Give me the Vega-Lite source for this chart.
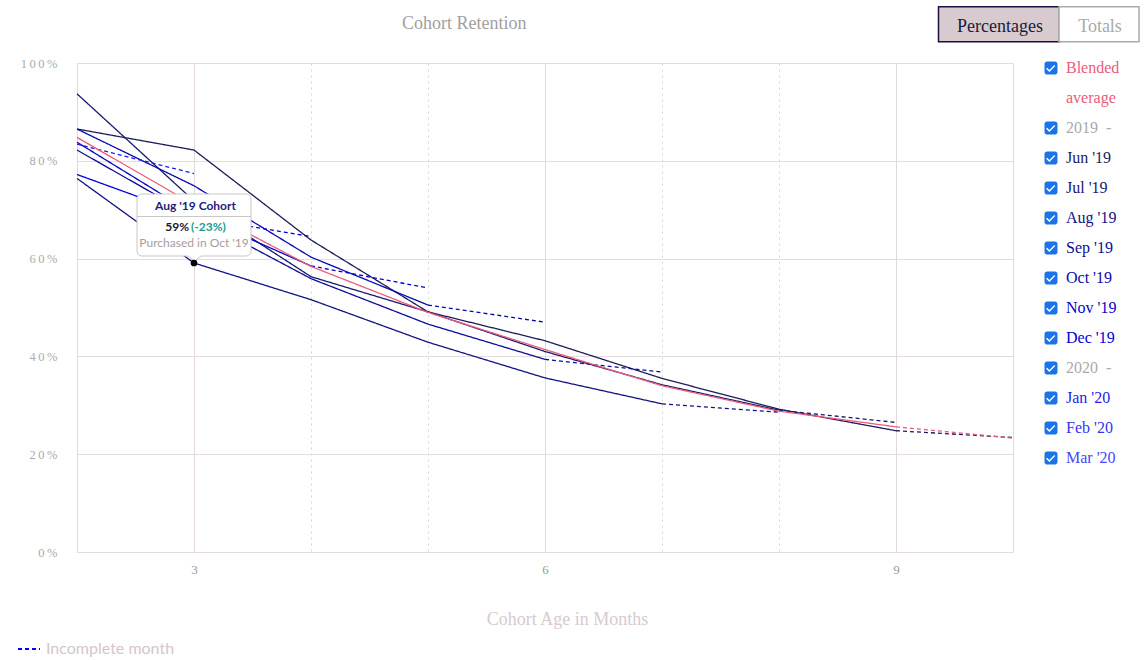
{
  "$schema": "https://vega.github.io/schema/vega-lite/v6.json",
  "width": 936,
  "height": 489,
  "autosize": {"type": "none"},
  "padding": {"left": 77, "top": 63, "right": 134, "bottom": 109},
  "background": "white",
  "title": {
    "text": "Cohort Retention",
    "frame": "group",
    "anchor": "start",
    "dx": 325,
    "offset": -24,
    "baseline": "middle",
    "font": "Liberation Serif",
    "fontSize": 18,
    "fontWeight": "normal",
    "color": "#a0a0a0"
  },
  "config": {
    "view": {"stroke": "#e0d8dc"},
    "font": "Liberation Serif"
  },
  "datasets": {
    "cohorts": [
      {"cohort": "Jun '19", "month": 2, "retention": 86.5, "segment": "Complete"},
      {"cohort": "Jun '19", "month": 3, "retention": 82.2, "segment": "Complete"},
      {"cohort": "Jun '19", "month": 4, "retention": 63.8, "segment": "Complete"},
      {"cohort": "Jun '19", "month": 5, "retention": 49.1, "segment": "Complete"},
      {"cohort": "Jun '19", "month": 6, "retention": 43.2, "segment": "Complete"},
      {"cohort": "Jun '19", "month": 7, "retention": 35.5, "segment": "Complete"},
      {"cohort": "Jun '19", "month": 8, "retention": 29.2, "segment": "Complete"},
      {"cohort": "Jun '19", "month": 9, "retention": 24.8, "segment": "Complete"},
      {"cohort": "Jun '19", "month": 9, "retention": 24.8, "segment": "Incomplete month"},
      {"cohort": "Jun '19", "month": 10, "retention": 23.4, "segment": "Incomplete month"},
      {"cohort": "Jul '19", "month": 2, "retention": 93.7, "segment": "Complete"},
      {"cohort": "Jul '19", "month": 3, "retention": 71.8, "segment": "Complete"},
      {"cohort": "Jul '19", "month": 4, "retention": 56.3, "segment": "Complete"},
      {"cohort": "Jul '19", "month": 5, "retention": 49.1, "segment": "Complete"},
      {"cohort": "Jul '19", "month": 6, "retention": 41.0, "segment": "Complete"},
      {"cohort": "Jul '19", "month": 7, "retention": 34.2, "segment": "Complete"},
      {"cohort": "Jul '19", "month": 8, "retention": 29.0, "segment": "Complete"},
      {"cohort": "Jul '19", "month": 8, "retention": 29.0, "segment": "Incomplete month"},
      {"cohort": "Jul '19", "month": 9, "retention": 26.5, "segment": "Incomplete month"},
      {"cohort": "Aug '19", "month": 2, "retention": 76.4, "segment": "Complete"},
      {"cohort": "Aug '19", "month": 3, "retention": 59.1, "segment": "Complete"},
      {"cohort": "Aug '19", "month": 4, "retention": 51.6, "segment": "Complete"},
      {"cohort": "Aug '19", "month": 5, "retention": 42.9, "segment": "Complete"},
      {"cohort": "Aug '19", "month": 6, "retention": 35.6, "segment": "Complete"},
      {"cohort": "Aug '19", "month": 7, "retention": 30.3, "segment": "Complete"},
      {"cohort": "Aug '19", "month": 7, "retention": 30.3, "segment": "Incomplete month"},
      {"cohort": "Aug '19", "month": 8, "retention": 28.6, "segment": "Incomplete month"},
      {"cohort": "Sep '19", "month": 2, "retention": 82.2, "segment": "Complete"},
      {"cohort": "Sep '19", "month": 3, "retention": 68.6, "segment": "Complete"},
      {"cohort": "Sep '19", "month": 4, "retention": 55.9, "segment": "Complete"},
      {"cohort": "Sep '19", "month": 5, "retention": 46.6, "segment": "Complete"},
      {"cohort": "Sep '19", "month": 6, "retention": 39.4, "segment": "Complete"},
      {"cohort": "Sep '19", "month": 6, "retention": 39.4, "segment": "Incomplete month"},
      {"cohort": "Sep '19", "month": 7, "retention": 36.8, "segment": "Incomplete month"},
      {"cohort": "Oct '19", "month": 2, "retention": 86.5, "segment": "Complete"},
      {"cohort": "Oct '19", "month": 3, "retention": 74.9, "segment": "Complete"},
      {"cohort": "Oct '19", "month": 4, "retention": 60.3, "segment": "Complete"},
      {"cohort": "Oct '19", "month": 5, "retention": 50.5, "segment": "Complete"},
      {"cohort": "Oct '19", "month": 5, "retention": 50.5, "segment": "Incomplete month"},
      {"cohort": "Oct '19", "month": 6, "retention": 47.0, "segment": "Incomplete month"},
      {"cohort": "Nov '19", "month": 2, "retention": 83.8, "segment": "Complete"},
      {"cohort": "Nov '19", "month": 3, "retention": 69.1, "segment": "Complete"},
      {"cohort": "Nov '19", "month": 4, "retention": 58.5, "segment": "Complete"},
      {"cohort": "Nov '19", "month": 4, "retention": 58.5, "segment": "Incomplete month"},
      {"cohort": "Nov '19", "month": 5, "retention": 54.0, "segment": "Incomplete month"},
      {"cohort": "Dec '19", "month": 2, "retention": 77.2, "segment": "Complete"},
      {"cohort": "Dec '19", "month": 3, "retention": 68.5, "segment": "Complete"},
      {"cohort": "Dec '19", "month": 3, "retention": 68.5, "segment": "Incomplete month"},
      {"cohort": "Dec '19", "month": 4, "retention": 64.5, "segment": "Incomplete month"},
      {"cohort": "Jan '20", "month": 2, "retention": 83.4, "segment": "Incomplete month"},
      {"cohort": "Jan '20", "month": 3, "retention": 77.4, "segment": "Incomplete month"}
    ],
    "blended": [
      {"cohort": "Blended average", "month": 2, "retention": 84.8, "segment": "Complete"},
      {"cohort": "Blended average", "month": 3, "retention": 71.0, "segment": "Complete"},
      {"cohort": "Blended average", "month": 4, "retention": 58.4, "segment": "Complete"},
      {"cohort": "Blended average", "month": 5, "retention": 49.0, "segment": "Complete"},
      {"cohort": "Blended average", "month": 6, "retention": 41.4, "segment": "Complete"},
      {"cohort": "Blended average", "month": 7, "retention": 34.0, "segment": "Complete"},
      {"cohort": "Blended average", "month": 8, "retention": 28.8, "segment": "Complete"},
      {"cohort": "Blended average", "month": 9, "retention": 25.6, "segment": "Complete"},
      {"cohort": "Blended average", "month": 9, "retention": 25.6, "segment": "Incomplete month"},
      {"cohort": "Blended average", "month": 10, "retention": 23.3, "segment": "Incomplete month"}
    ],
    "hover": [
      {"month": 3, "retention": 59.1, "heading": "Aug '19 Cohort", "pct": "59%", "change": "(-23%)", "note": "Purchased in Oct '19"}
    ],
    "views": [
      {"view": "Percentages"},
      {"view": "Totals"}
    ]
  },
  "layer": [
    {
      "data": {"name": "cohorts"},
      "mark": {"type": "line", "strokeWidth": 1.3},
      "encoding": {
        "x": {
          "field": "month",
          "type": "quantitative",
          "scale": {"domain": [2, 10], "nice": false},
          "axis": {
            "values": [2, 3, 4, 5, 6, 7, 8, 9, 10],
            "format": "d",
            "labelExpr": "datum.value % 3 === 0 ? datum.label : ''",
            "labelFont": "Liberation Serif",
            "labelFontSize": 13,
            "labelColor": "#999999",
            "labelPadding": 11,
            "ticks": false,
            "domain": false,
            "grid": true,
            "gridColor": {"condition": {"test": "datum.value % 3 === 0 || datum.value === 2 || datum.value === 10", "value": "#e0d8dc"}, "value": "#d4d4d4"},
            "gridDash": {"condition": {"test": "datum.value % 3 === 0 || datum.value === 2 || datum.value === 10", "value": []}, "value": [2, 4]},
            "title": "Cohort Age in Months",
            "titleFont": "Liberation Serif",
            "titleFontSize": 18,
            "titleFontWeight": "normal",
            "titleColor": "#d8cad0",
            "titleX": 490,
            "titleY": 67,
            "titleAlign": "center",
            "titleBaseline": "middle"
          }
        },
        "y": {
          "field": "retention",
          "type": "quantitative",
          "scale": {"domain": [0, 100], "nice": false},
          "axis": {
            "values": [0, 20, 40, 60, 80, 100],
            "labelExpr": "join(split(datum.value + '%', ''), '\u2009')",
            "labelFont": "Liberation Serif",
            "labelFontSize": 12.5,
            "labelColor": "#aaaaaa",
            "labelPadding": 20,
            "ticks": false,
            "domain": false,
            "grid": true,
            "gridColor": "#e4dce0",
            "title": null
          }
        },
        "color": {
          "field": "cohort",
          "type": "nominal",
          "scale": {
            "domain": ["Blended average", "average", "2019\u00a0\u00a0-", "Jun '19", "Jul '19", "Aug '19", "Sep '19", "Oct '19", "Nov '19", "Dec '19", "2020\u00a0\u00a0-", "Jan '20", "Feb '20", "Mar '20"],
            "range": ["#ec5b7c", "#ec5b7c", "#aaaaaa", "#1c1c5c", "#181870", "#121284", "#0c0c9a", "#0808b0", "#0404c8", "#0000dd", "#aaaaaa", "#1c1cee", "#3333f5", "#4646fa"]
          },
          "legend": {
            "orient": "none",
            "legendX": 966,
            "legendY": -3,
            "padding": 0,
            "title": null,
            "symbolType": "M-1,-0.6A0.4,0.4,0,0,1,-0.6,-1H0.6A0.4,0.4,0,0,1,1,-0.6V0.6A0.4,0.4,0,0,1,0.6,1H-0.6A0.4,0.4,0,0,1,-1,0.6ZM-0.75,0.1L-0.25,0.6L0.65,-0.3L0.5,-0.45L-0.25,0.3L-0.6,-0.05Z",
            "symbolSize": 169,
            "labelOffset": 7,
            "labelFont": "Liberation Serif",
            "labelFontSize": 16,
            "labelLimit": 200,
            "rowPadding": 14,
            "labelExpr": "datum.label === 'Blended average' ? 'Blended' : datum.label",
            "encode": {
              "symbols": {
                "update": {
                  "fill": {"value": "#1a73e8"},
                  "stroke": {"value": "transparent"},
                  "strokeWidth": {"value": 0},
                  "opacity": {"signal": "datum.value === 'average' ? 0 : 1"}
                }
              },
              "labels": {
                "update": {
                  "fill": {"scale": "color", "field": "value"}
                }
              }
            }
          }
        },
        "strokeDash": {
          "field": "segment",
          "type": "nominal",
          "scale": {"domain": ["Complete", "Incomplete month"], "range": [[1, 0], [4, 3]]},
          "legend": {
            "orient": "none",
            "legendX": -60,
            "legendY": 574,
            "padding": 0,
            "title": null,
            "values": ["Incomplete month"],
            "symbolType": "stroke",
            "symbolSize": 484,
            "symbolStrokeColor": "#0000ff",
            "symbolStrokeWidth": 2,
            "symbolDash": [6, 3],
            "labelFont": "Lato",
            "labelFontSize": 16,
            "labelColor": "#d4c6cc",
            "labelOffset": 5,
            "encode": {
              "symbols": {
                "update": {
                  "stroke": {"value": "#0000ff"},
                  "strokeDash": {"value": [6, 3]},
                  "strokeWidth": {"value": 2}
                }
              }
            }
          }
        }
      }
    },
    {
      "data": {"name": "blended"},
      "mark": {"type": "line", "strokeWidth": 1.3},
      "encoding": {
        "x": {"field": "month", "type": "quantitative"},
        "y": {"field": "retention", "type": "quantitative"},
        "color": {"field": "cohort", "type": "nominal"},
        "strokeDash": {"field": "segment", "type": "nominal"}
      }
    },
    {
      "data": {"name": "hover"},
      "mark": {
        "type": "point",
        "shape": "M-52,-69H52A5,5,0,0,1,57,-64V-12A5,5,0,0,1,52,-7H7L0.5,-2L-6,-7H-52A5,5,0,0,1,-57,-12V-64A5,5,0,0,1,-52,-69ZM-57,-46.5H57",
        "size": 4,
        "filled": true,
        "fill": "#ffffff",
        "fillOpacity": 1,
        "stroke": "#c8c8c8",
        "strokeWidth": 1,
        "opacity": 1
      },
      "encoding": {
        "x": {"field": "month", "type": "quantitative"},
        "y": {"field": "retention", "type": "quantitative"}
      }
    },
    {
      "data": {"name": "hover"},
      "mark": {"type": "point", "shape": "circle", "size": 45, "filled": true, "color": "#000000", "opacity": 1},
      "encoding": {
        "x": {"field": "month", "type": "quantitative"},
        "y": {"field": "retention", "type": "quantitative"}
      }
    },
    {
      "data": {"name": "hover"},
      "mark": {"type": "text", "font": "Lato", "fontSize": 12, "fontWeight": "bold", "color": "#1d1d7a", "align": "center", "baseline": "middle", "dx": 1.5, "dy": -57},
      "encoding": {
        "x": {"field": "month", "type": "quantitative"},
        "y": {"field": "retention", "type": "quantitative"},
        "text": {"field": "heading"}
      }
    },
    {
      "data": {"name": "hover"},
      "mark": {"type": "text", "font": "Lato", "fontSize": 12, "fontWeight": "bold", "color": "#1a1a3a", "align": "right", "baseline": "middle", "dx": -5, "dy": -36.5},
      "encoding": {
        "x": {"field": "month", "type": "quantitative"},
        "y": {"field": "retention", "type": "quantitative"},
        "text": {"field": "pct"}
      }
    },
    {
      "data": {"name": "hover"},
      "mark": {"type": "text", "font": "Lato", "fontSize": 12, "fontWeight": "bold", "color": "#1a9c8c", "align": "left", "baseline": "middle", "dx": -3, "dy": -36.5},
      "encoding": {
        "x": {"field": "month", "type": "quantitative"},
        "y": {"field": "retention", "type": "quantitative"},
        "text": {"field": "change"}
      }
    },
    {
      "data": {"name": "hover"},
      "mark": {"type": "text", "font": "Lato", "fontSize": 12, "color": "#a89c9e", "align": "center", "baseline": "middle", "dx": 0, "dy": -20},
      "encoding": {
        "x": {"field": "month", "type": "quantitative"},
        "y": {"field": "retention", "type": "quantitative"},
        "text": {"field": "note"}
      }
    },
    {
      "data": {"name": "views"},
      "mark": {"type": "point", "opacity": 0},
      "encoding": {
        "shape": {
          "field": "view",
          "type": "nominal",
          "scale": {
            "domain": ["Percentages", "Totals"],
            "range": ["M-60.5,-20.5H60.5V14.5H-60.5Z", "M-40,-20.5H40V14.5H-40Z"]
          },
          "legend": {
            "orient": "none",
            "legendX": 913,
            "legendY": -45,
            "padding": 0,
            "title": null,
            "direction": "horizontal",
            "columnPadding": -7,
            "symbolSize": 4,
            "symbolOpacity": 1,
            "symbolStrokeWidth": 1.5,
            "labelOffset": -8,
            "labelAlign": "center",
            "labelFont": "Liberation Serif",
            "labelFontSize": 18,
            "labelColor": {"expr": "datum.value === 'Percentages' ? '#1a1a3a' : '#aaaaaa'"}
          }
        },
        "fill": {
          "field": "view",
          "type": "nominal",
          "scale": {"domain": ["Percentages", "Totals"], "range": ["#d8cbd0", "#ffffff"]}
        },
        "stroke": {
          "field": "view",
          "type": "nominal",
          "scale": {"domain": ["Percentages", "Totals"], "range": ["#1a1040", "#aaaaaa"]}
        }
      }
    }
  ]
}
